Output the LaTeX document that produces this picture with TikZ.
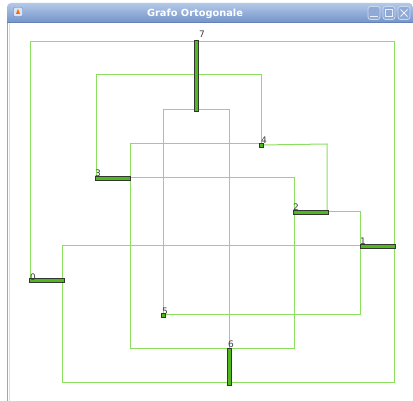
\documentclass[tikz,border=0pt]{standalone}
\usepackage{fontspec}
\setmainfont{DejaVu Sans}
\usetikzlibrary{backgrounds}
\definecolor{edgegreen}{RGB}{140,222,96}
\definecolor{nodegreen}{RGB}{80,184,30}
\definecolor{nodeborder}{RGB}{50,55,50}
\definecolor{titletop}{RGB}{180,201,232}
\definecolor{titlebot}{RGB}{118,150,202}
\definecolor{titleedge}{RGB}{100,130,185}
\definecolor{labelgray}{RGB}{60,60,60}
\tikzset{
  edge/.style={draw=edgegreen, line width=1pt},
  hbar/.style={draw=nodeborder, fill=nodegreen, line width=0.8pt, minimum width=35pt, minimum height=4pt, inner sep=0pt, outer sep=0pt},
  vbar/.style={draw=nodeborder, fill=nodegreen, line width=0.8pt, minimum width=4pt, inner sep=0pt, outer sep=0pt},
  dot/.style={draw=nodeborder, fill=nodegreen, line width=0.8pt, minimum width=4pt, minimum height=4pt, inner sep=0pt, outer sep=0pt},
  lbl/.style={text=labelgray, font=\fontsize{9}{9}\selectfont, inner sep=0pt, anchor=base west},
  winbtn/.style={draw=titletop!70!white, rounded corners=2.5pt, line width=0.8pt, fill=titletop!40!titlebot},
}
\begin{document}
\begin{tikzpicture}[x=1pt,y=-1pt]
\useasboundingbox (0,0) rectangle (413,401);
% window chrome
\draw[gray!70, line width=1.5pt] (7.5,22) -- (7.5,401);
\draw[gray!25, line width=1pt] (9,22) -- (9,401);
\shade[top color=titletop, bottom color=titlebot, rounded corners=4pt] (7,3) -- (413,3) -- (413,22) -- (7,22) -- cycle;
\shade[top color=titletop!50!titlebot, bottom color=titlebot] (7,12) rectangle (413,22);
\draw[titleedge, line width=0.8pt] (7,22) -- (413,22);
\node[font=\bfseries\fontsize{9.8}{9.8}\selectfont, text=white, inner sep=0pt] (title) at (195,13.5) {Grafo Ortogonale};
\node[fill=titletop!50!white, draw=titleedge, minimum width=9pt, minimum height=9pt, inner sep=0pt, rounded corners=1pt] (icon) at (18,12) {};
\fill[orange!80!red] (16,14) -- (18,9) -- (20,14) -- cycle;
\node[winbtn, minimum width=12pt, minimum height=13pt, inner sep=0pt] (bmin) at (374,13) {};
\node[winbtn, minimum width=12pt, minimum height=13pt, inner sep=0pt] (bmax) at (389,13) {};
\node[winbtn, minimum width=12pt, minimum height=13pt, inner sep=0pt] (bclose) at (404,13) {};
\draw[white!85!titlebot, line width=1pt] (370,17) -- (378,17);
\draw[white!85!titlebot, line width=0.8pt] (385.5,9.5) rectangle (392.5,16.5);
\draw[white!85!titlebot, line width=1pt] (400.5,9.5) -- (407.5,16.5) (400.5,16.5) -- (407.5,9.5);
% graph nodes
\node[vbar, minimum height=71pt] (n7) at (196,75.5) {};
\node[dot] (n4) at (261,145) {};
\node[hbar] (n3) at (112.5,178) {};
\node[hbar] (n2) at (310.5,212) {};
\node[hbar] (n1) at (378,246) {};
\node[hbar] (n0) at (47,280) {};
\node[dot] (n5) at (163,315) {};
\node[vbar, minimum height=37pt] (n6) at (229,366.5) {};
% labels
\node[lbl] (l7) at (199,38) {7};
\node[lbl] (l4) at (261,144) {4};
\node[lbl] (l3) at (95,177) {3};
\node[lbl] (l2) at (293,211) {2};
\node[lbl] (l1) at (360,245) {1};
\node[lbl] (l0) at (30,280) {0};
\node[lbl] (l5) at (162,315) {5};
\node[lbl] (l6) at (228,348) {6};
% edges
\begin{scope}[on background layer]
\draw[edge] (n0.center -| 30,0) -- (30,42) -- (196,42) -- (n7.center);
\draw[edge] (n7.center |- 0,42) -- (394,42) -- (394,382) -- (n6.center |- 0,382);
\draw[edge] (n6.center |- 0,382) -- (62,382) -- (62,246) -- (n1.center);
\draw[edge] (n7.center |- 0,75) -- (96,75) -- (n3.center -| 96,0);
\draw[edge] (n7.center |- 0,75) -- (261,75) -- (n4.center);
\draw[edge] (n7.center |- 0,110) -- (163,110) -- (n5.center);
\draw[edge] (n7.center |- 0,110) -- (229,110) -- (n6.center);
\draw[edge] (n4.center) -- (327,144) -- (n2.center -| 327,0);
\draw[edge] (n4.center |- 0,144) -- (130,144) -- (130,349) -- (294,349) -- (n2.center -| 294,0);
\draw[edge] (n3.center -| 130,0) -- (294,178) -- (n2.center -| 294,0);
\draw[edge] (n2.center -| 328,0) -- (360,212) -- (n1.center -| 360,0);
\draw[edge] (n1.center -| 360,0) -- (360,315) -- (n5.center);
\end{scope}
\end{tikzpicture}
\end{document}
